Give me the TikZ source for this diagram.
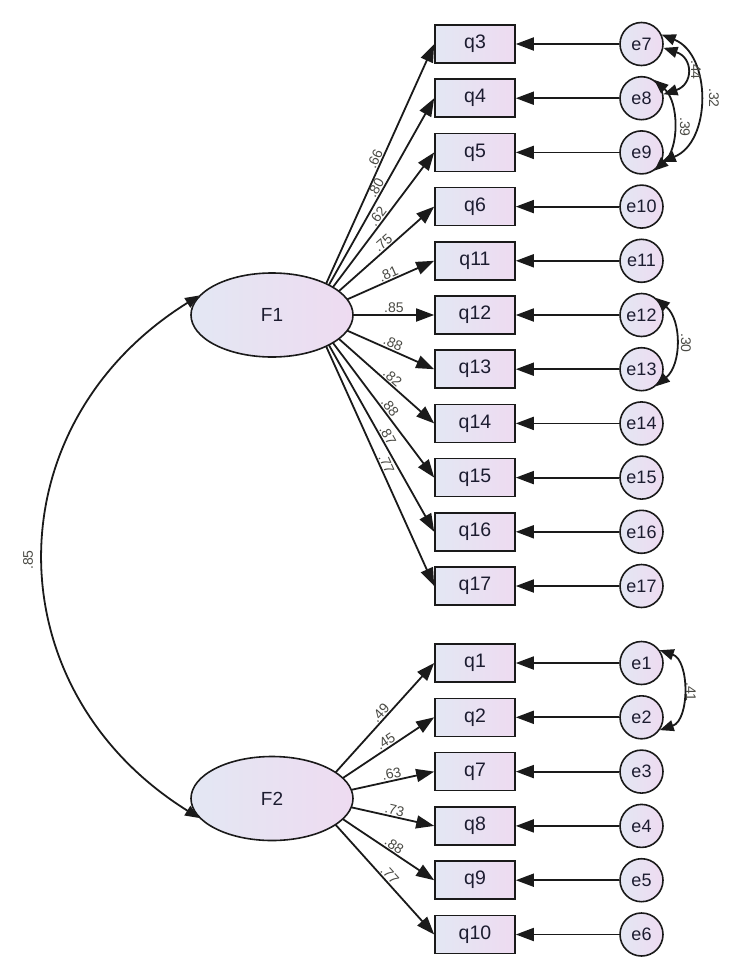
\documentclass[tikz,border=0pt]{standalone}
\usepackage{fontspec}
\setmainfont{Liberation Sans}
\usetikzlibrary{arrows.meta,shapes.geometric,backgrounds}
\definecolor{fillL}{HTML}{E3E7F3}
\definecolor{fillR}{HTML}{EEDBF1}
\definecolor{lblc}{HTML}{4A4A44}
\definecolor{strk}{HTML}{1A1A1A}
\definecolor{txtc}{HTML}{1C1C30}
\begin{document}
\begin{tikzpicture}[x=1pt,y=1pt,
  obs/.style={draw=strk, line width=1.6pt, rectangle, minimum width=80pt, minimum height=38pt,
    left color=fillL, right color=fillR, inner sep=0pt, text=txtc, font=\fontsize{19.5}{21}\selectfont},
  err/.style={draw=strk, line width=1.6pt, circle, minimum size=43pt, inner sep=0pt,
    left color=fillL, right color=fillR, text=txtc, font=\fontsize{18}{20}\selectfont},
  lat/.style={draw=strk, line width=1.6pt, ellipse, minimum width=162pt, minimum height=84pt,
    inner sep=0pt, left color=fillL, right color=fillR, text=txtc, font=\fontsize{19}{21}\selectfont},
  ldarrow/.style={draw=strk, line width=1.8pt, -{Triangle[length=18pt,width=13pt]}},
  cov/.style={draw=strk, line width=1.8pt, {Triangle[length=14pt,width=11pt]}-{Triangle[length=14pt,width=11pt]}},
  lbl/.style={font=\fontsize{14}{16}\selectfont, text=lblc, inner sep=1pt},
]
\useasboundingbox (0,0) rectangle (744,-977);

% observed variables and error terms
\foreach \q/\e/\y in {3/7/44,4/8/98.2,5/9/152.4,6/10/206.6,11/11/260.8,12/12/315,
    13/13/369.2,14/14/423.4,15/15/477.6,16/16/531.8,17/17/586,
    1/1/663,2/2/717.3,7/3/771.6,8/4/825.9,9/5/880.2,10/6/934.5}{
  \node[obs] (q\q) at (475,-\y) {q\q};
  \node[err] (e\e) at (641.5,-\y) {e\e};
  \draw[ldarrow] (e\e) -- (q\q.east);
}

% latent factors
\node[lat] (F1) at (272,-315) {F1};
\node[lat] (F2) at (272,-798.5) {F2};
\coordinate (h1) at ([xshift=40pt]F1.center);
\coordinate (h2) at ([xshift=40pt]F2.center);

\begin{scope}[on background layer]
\foreach \q/\p/\l in {3/0.566/.66,4/0.571/.80,5/0.581/.62,6/0.618/.75,11/0.647/.81,
    12/0.67/.85,13/0.641/.88,14/0.622/.82,15/0.593/.88,16/0.571/.87,17/0.56/.77}{
  \draw[ldarrow] (h1) -- (q\q.west) node[lbl, pos=\p, above, sloped] {\l};
}
\foreach \q/\p/\l in {1/0.60/.49,2/0.634/.45,7/0.663/.63,8/0.664/.73,9/0.642/.88,10/0.596/.77}{
  \draw[ldarrow] (h2) -- (q\q.west) node[lbl, pos=\p, above, sloped] {\l};
}
\end{scope}

% factor covariance
\draw[cov] (F1.165) .. controls +(-207,-129) and +(-207,129) .. (F2.195);
\node[lbl, rotate=90] (c85) at (28,-560) {.85};

% error covariances
\draw[cov] (e7.-10) .. controls +(30,-10) and +(30,10) .. (e8.10);
\draw[cov] (e7.25) .. controls +(50,-20) and +(50,20) .. (e9.-25);
\draw[cov] (e8.55) .. controls +(25,-22) and +(25,22) .. (e9.-55);
\draw[cov] (e12.50) .. controls +(26,-22) and +(26,22) .. (e13.-50);
\draw[cov] (e1.35) .. controls +(30,-10) and +(30,10) .. (e2.-35);
\node[lbl, rotate=-90] (c44) at (696,-70) {.44};
\node[lbl, rotate=-90] (c32) at (714,-98) {.32};
\node[lbl, rotate=-90] (c39) at (685,-127) {.39};
\node[lbl, rotate=-90] (c30) at (686,-343) {.30};
\node[lbl, rotate=-90] (c41) at (691,-692) {.41};
\end{tikzpicture}
\end{document}
